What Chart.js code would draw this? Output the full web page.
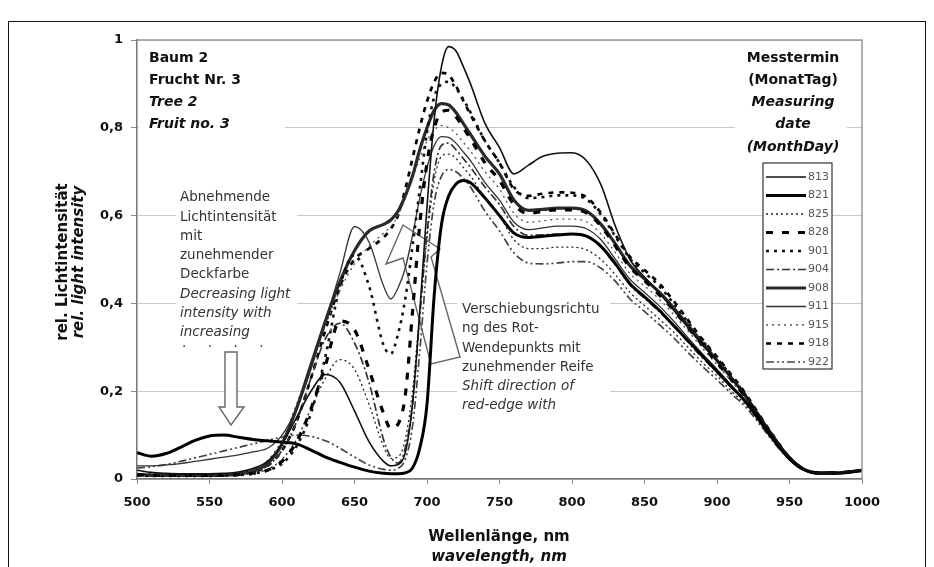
<!DOCTYPE html>
<html>
<head>
<meta charset="utf-8">
<script src="https://cdn.jsdelivr.net/npm/chart.js@4.4.1/dist/chart.umd.min.js"></script>
<style>
  html, body { margin: 0; padding: 0; background: #fff; }
  #wrap { position: relative; width: 934px; height: 567px; overflow: hidden; }
  #rahmen { position: absolute; left: 8px; top: 21px; width: 916px; height: 600px; border: 1.5px solid #111; pointer-events: none; }
</style>
</head>
<body>
<div id="wrap">
  <canvas id="grafico" width="934" height="567"></canvas>
  <div id="rahmen"></div>
</div>
<script>
// Wellenlängen (nm)
const wellenlaengen = [500,510,520,530,540,550,560,570,580,590,600,610,620,630,640,650,660,670,
  675,680,685,690,695,700,705,710,715,720,725,730,
  740,750,760,770,780,790,800,810,820,830,840,850,860,870,880,890,900,910,920,930,940,950,960,970,980,990,1000];

// Messtermine (MonatTag)
const messtermine = ['813','821','825','828','901','904','908','911','915','918','922'];

const yTicks = [0, 0.2, 0.4, 0.6, 0.8, 1];
const xTicks = [500, 550, 600, 650, 700, 750, 800, 850, 900, 950, 1000];

// rel. Lichtintensität je Messtermin
const m813 = [0.02,0.015,0.013,0.012,0.012,0.012,0.013,0.016,0.024,0.04,
  0.08,0.14,0.2,0.238,0.22,0.155,0.085,0.04,
  0.03,0.033,0.06,0.17,0.38,0.62,0.82,0.94,0.985,0.975,0.94,0.9,
  0.81,0.755,0.695,0.715,0.735,0.742,0.743,0.725,0.67,0.575,0.5,0.46,0.425,0.385,0.345,0.305,0.27,0.23,0.19,0.14,0.092,0.05,0.023,0.014,0.014,0.016,0.02];
const m821 = [0.06,0.052,0.058,0.072,0.088,0.098,0.1,0.095,0.09,0.087,
  0.084,0.08,0.066,0.05,0.038,0.027,0.018,0.013,
  0.012,0.012,0.014,0.025,0.07,0.17,0.42,0.58,0.645,0.672,0.68,0.675,
  0.64,0.6,0.56,0.55,0.553,0.556,0.558,0.553,0.53,0.49,0.445,0.415,0.385,0.35,0.315,0.28,0.245,0.21,0.175,0.13,0.085,0.046,0.021,0.013,0.013,0.015,0.019];
const m825 = [0.012,0.01,0.009,0.009,0.009,0.009,0.01,0.011,0.014,0.022,
  0.045,0.09,0.16,0.23,0.272,0.25,0.17,0.075,
  0.047,0.05,0.09,0.2,0.38,0.55,0.68,0.735,0.74,0.73,0.71,0.69,
  0.64,0.6,0.545,0.525,0.525,0.528,0.528,0.522,0.5,0.465,0.425,0.395,0.365,0.335,0.3,0.265,0.235,0.2,0.168,0.125,0.082,0.045,0.02,0.013,0.013,0.015,0.019];
const m828 = [0.01,0.009,0.008,0.008,0.008,0.008,0.009,0.01,0.013,0.02,
  0.04,0.085,0.16,0.26,0.36,0.34,0.25,0.15,
  0.115,0.125,0.19,0.38,0.58,0.72,0.8,0.835,0.84,0.825,0.8,0.775,
  0.72,0.68,0.625,0.605,0.61,0.613,0.613,0.606,0.576,0.53,0.482,0.452,0.42,0.385,0.345,0.305,0.265,0.226,0.185,0.137,0.09,0.048,0.022,0.014,0.014,0.016,0.02];
const m901 = [0.008,0.007,0.007,0.007,0.007,0.007,0.008,0.009,0.012,0.02,
  0.035,0.075,0.15,0.28,0.44,0.51,0.44,0.305,
  0.285,0.33,0.41,0.53,0.66,0.79,0.87,0.9,0.905,0.89,0.865,0.835,
  0.77,0.72,0.665,0.64,0.642,0.646,0.646,0.637,0.602,0.552,0.502,0.47,0.44,0.4,0.357,0.315,0.275,0.234,0.19,0.14,0.092,0.049,0.022,0.014,0.014,0.016,0.02];
const m904 = [0.011,0.01,0.009,0.009,0.009,0.009,0.01,0.012,0.017,0.03,
  0.065,0.13,0.23,0.32,0.355,0.31,0.22,0.09,
  0.05,0.036,0.07,0.17,0.37,0.56,0.7,0.76,0.765,0.75,0.73,0.71,
  0.665,0.625,0.575,0.555,0.556,0.558,0.558,0.553,0.528,0.487,0.442,0.412,0.382,0.349,0.312,0.276,0.243,0.208,0.173,0.129,0.085,0.046,0.021,0.013,0.013,0.015,0.019];
const m908 = [0.01,0.009,0.008,0.008,0.008,0.008,0.009,0.011,0.018,0.035,
  0.08,0.16,0.26,0.36,0.45,0.52,0.565,0.58,
  0.59,0.61,0.645,0.69,0.75,0.8,0.84,0.855,0.852,0.835,0.81,0.785,
  0.735,0.695,0.635,0.612,0.614,0.617,0.617,0.61,0.58,0.535,0.486,0.456,0.426,0.39,0.35,0.31,0.27,0.23,0.187,0.138,0.09,0.048,0.022,0.014,0.014,0.016,0.02];
const m911 = [0.03,0.03,0.032,0.035,0.04,0.045,0.05,0.055,0.062,0.07,
  0.1,0.16,0.25,0.36,0.47,0.575,0.54,0.44,
  0.41,0.435,0.48,0.555,0.64,0.71,0.76,0.78,0.778,0.765,0.745,0.725,
  0.675,0.635,0.585,0.568,0.572,0.576,0.576,0.57,0.545,0.5,0.455,0.425,0.395,0.36,0.322,0.285,0.25,0.213,0.177,0.132,0.087,0.047,0.021,0.013,0.013,0.015,0.019];
const m915 = [0.013,0.012,0.011,0.011,0.011,0.011,0.012,0.014,0.022,0.042,
  0.09,0.17,0.26,0.35,0.43,0.49,0.53,0.56,
  0.575,0.6,0.64,0.685,0.73,0.77,0.795,0.805,0.8,0.787,0.767,0.747,
  0.7,0.66,0.605,0.585,0.588,0.592,0.592,0.586,0.558,0.515,0.468,0.44,0.41,0.375,0.337,0.298,0.26,0.222,0.182,0.135,0.089,0.048,0.022,0.014,0.014,0.016,0.02];
const m918 = [0.009,0.008,0.008,0.008,0.008,0.008,0.009,0.01,0.016,0.03,
  0.065,0.13,0.23,0.34,0.44,0.5,0.525,0.55,
  0.57,0.6,0.66,0.73,0.8,0.86,0.905,0.925,0.92,0.895,0.862,0.83,
  0.77,0.72,0.66,0.645,0.65,0.653,0.652,0.642,0.606,0.556,0.506,0.476,0.446,0.406,0.362,0.318,0.278,0.237,0.193,0.142,0.093,0.049,0.022,0.014,0.014,0.016,0.02];
const m922 = [0.025,0.028,0.033,0.04,0.048,0.056,0.064,0.072,0.08,0.088,
  0.095,0.1,0.097,0.087,0.07,0.05,0.032,0.022,
  0.02,0.024,0.045,0.12,0.29,0.49,0.63,0.69,0.705,0.7,0.685,0.665,
  0.61,0.565,0.515,0.492,0.49,0.492,0.495,0.495,0.48,0.45,0.41,0.382,0.352,0.322,0.288,0.256,0.226,0.194,0.163,0.122,0.08,0.044,0.02,0.013,0.013,0.015,0.019];

const reihen = [m813, m821, m825, m828, m901, m904, m908, m911, m915, m918, m922];

// Linienstile wie in der Legende
const stile = [
  { w: 1.6, dash: [], color: '#111' },
  { w: 3, dash: [], color: '#000' },
  { w: 1.3, dash: [2, 3], color: '#222' },
  { w: 3.2, dash: [7, 9], color: '#000' },
  { w: 2.6, dash: [3, 5], color: '#111' },
  { w: 1.7, dash: [8, 3, 2, 3], color: '#333' },
  { w: 3.2, dash: [], color: '#2a2a2a' },
  { w: 1.3, dash: [], color: '#333' },
  { w: 1.3, dash: [2, 4], color: '#555' },
  { w: 2.7, dash: [5, 6], color: '#000' },
  { w: 1.7, dash: [8, 3, 2, 3, 2, 3], color: '#444' }
];

const FONT = 'DejaVu Sans';

function pfeil(ctx, pts) {
  ctx.beginPath();
  ctx.moveTo(pts[0][0], pts[0][1]);
  for (let i = 1; i < pts.length; i++) ctx.lineTo(pts[i][0], pts[i][1]);
  ctx.closePath();
  ctx.fillStyle = '#fff';
  ctx.fill();
  ctx.strokeStyle = '#666';
  ctx.lineWidth = 1.4;
  ctx.stroke();
}

function zeilen(ctx, x, ys, texte, fonts, align) {
  ctx.textAlign = align;
  ctx.textBaseline = 'middle';
  texte.forEach((t, i) => {
    ctx.font = fonts[i];
    ctx.fillText(t, x, ys[i]);
  });
}

const deko = {
  id: 'deko',
  beforeDatasetsDraw(chart) {
    const ctx = chart.ctx;
    ctx.save();
    ctx.fillStyle = '#fff';
    ctx.fillRect(139, 44, 146, 93);
    ctx.fillRect(176, 186, 121, 170);
    ctx.fillRect(457, 297, 153, 118);
    ctx.fillRect(735, 42, 112, 116);
    // Pfeil: abnehmende Lichtintensität
    pfeil(ctx, [[225,352],[237,352],[237,407],[244,407],[231,425],[219,407],[225,407]]);
    // Pfeil: Verschiebung Rot-Wendepunkt
    pfeil(ctx, [[403,225],[440,249],[431,257],[460,357],[431,364],[403,258],[386,264]]);
    ctx.restore();
  },
  afterDraw(chart) {
    const ctx = chart.ctx;
    const a = chart.chartArea;
    ctx.save();
    // Rahmen des Diagrammbereichs oben/rechts
    ctx.strokeStyle = '#999';
    ctx.lineWidth = 1.5;
    ctx.beginPath();
    ctx.moveTo(a.left, a.top);
    ctx.lineTo(a.right, a.top);
    ctx.lineTo(a.right, a.bottom);
    ctx.stroke();

    ctx.fillStyle = '#111';
    const b = 'bold 14px ' + FONT, bi = 'italic bold 14px ' + FONT;
    zeilen(ctx, 149, [58, 80, 102, 124], ['Baum 2', 'Frucht Nr. 3', 'Tree 2', 'Fruit no. 3'], [b, b, bi, bi], 'left');
    zeilen(ctx, 793, [58, 80, 102, 124, 147], ['Messtermin', '(MonatTag)', 'Measuring', 'date', '(MonthDay)'], [b, b, bi, bi, bi], 'center');

    ctx.fillStyle = '#333';
    const r = '13.5px ' + FONT, ri = 'italic 13.5px ' + FONT;
    zeilen(ctx, 180, [197, 217, 236, 255, 274, 294, 313, 332],
      ['Abnehmende', 'Lichtintensität', 'mit', 'zunehmender', 'Deckfarbe', 'Decreasing light', 'intensity with', 'increasing'],
      [r, r, r, r, r, ri, ri, ri], 'left');
    zeilen(ctx, 182, [347], ['·     ·     ·     ·'], [r], 'left');
    zeilen(ctx, 462, [309, 328, 348, 367, 386, 405],
      ['Verschiebungsrichtu', 'ng des Rot-', 'Wendepunkts mit', 'zunehmender Reife', 'Shift direction of', 'red-edge with'],
      [r, r, r, r, ri, ri], 'left');

    // Achsentitel
    ctx.fillStyle = '#111';
    zeilen(ctx, 499, [537, 557], ['Wellenlänge, nm', 'wavelength, nm'],
      ['bold 15px ' + FONT, 'italic bold 15px ' + FONT], 'center');
    ctx.save();
    ctx.translate(63, 262);
    ctx.rotate(-Math.PI / 2);
    zeilen(ctx, 0, [0], ['rel. Lichtintensität'], ['bold 15px ' + FONT], 'center');
    ctx.restore();
    ctx.save();
    ctx.translate(79, 262);
    ctx.rotate(-Math.PI / 2);
    zeilen(ctx, 0, [0], ['rel. light intensity'], ['italic bold 15px ' + FONT], 'center');
    ctx.restore();

    // Legende
    const lx = 763, ly = 163, lw = 69, lh = 206;
    ctx.fillStyle = '#fff';
    ctx.fillRect(lx, ly, lw, lh);
    ctx.strokeStyle = '#333';
    ctx.lineWidth = 1.2;
    ctx.strokeRect(lx, ly, lw, lh);
    chart.data.datasets.forEach((ds, i) => {
      const y = 177 + i * 18.5;
      ctx.beginPath();
      ctx.setLineDash(ds.borderDash);
      ctx.lineWidth = ds.borderWidth;
      ctx.strokeStyle = ds.borderColor;
      ctx.moveTo(lx + 3, y);
      ctx.lineTo(lx + 43, y);
      ctx.stroke();
      ctx.setLineDash([]);
      ctx.fillStyle = '#555';
      zeilen(ctx, lx + 45, [y], [ds.label], ['11px ' + FONT], 'left');
    });
    ctx.restore();
  }
};

const ctx = document.getElementById('grafico');
new Chart(ctx, {
  type: 'line',
  data: {
    datasets: reihen.map((werte, i) => ({
      label: messtermine[i],
      data: wellenlaengen.map((w, j) => ({ x: w, y: werte[j] })),
      borderColor: stile[i].color,
      borderWidth: stile[i].w,
      borderDash: stile[i].dash,
      pointRadius: 0,
      fill: false,
      tension: 0.4,
      cubicInterpolationMode: 'monotone'
    }))
  },
  options: {
    responsive: false,
    animation: false,
    devicePixelRatio: 1,
    layout: { padding: { top: 40, right: 72, bottom: 0, left: 0 } },
    plugins: { legend: { display: false }, tooltip: { enabled: false } },
    scales: {
      x: {
        type: 'linear',
        min: 500,
        max: 1000,
        afterFit: s => { s.height = 88; },
        afterBuildTicks: s => { s.ticks = xTicks.map(v => ({ value: v })); },
        ticks: {
          autoSkip: false, maxRotation: 0, padding: 11, color: '#111',
          font: { family: FONT, size: 13, weight: 'bold' },
          callback: v => String(v)
        },
        grid: { drawOnChartArea: false, drawTicks: true, tickLength: 5, tickColor: '#888' },
        border: { color: '#777', width: 1.5 }
      },
      y: {
        min: 0,
        max: 1,
        afterFit: s => { s.width = 137; },
        afterBuildTicks: s => { s.ticks = yTicks.map(v => ({ value: v })); },
        ticks: {
          padding: 8,
          color: '#111',
          font: { family: FONT, size: 13, weight: 'bold' },
          callback: v => String(Math.round(v * 10) / 10).replace('.', ',')
        },
        grid: { color: '#c8c8c8', lineWidth: 1, tickLength: 6, tickColor: '#888' },
        border: { color: '#777', width: 1.5 }
      }
    }
  },
  plugins: [deko]
});
</script>
</body>
</html>
